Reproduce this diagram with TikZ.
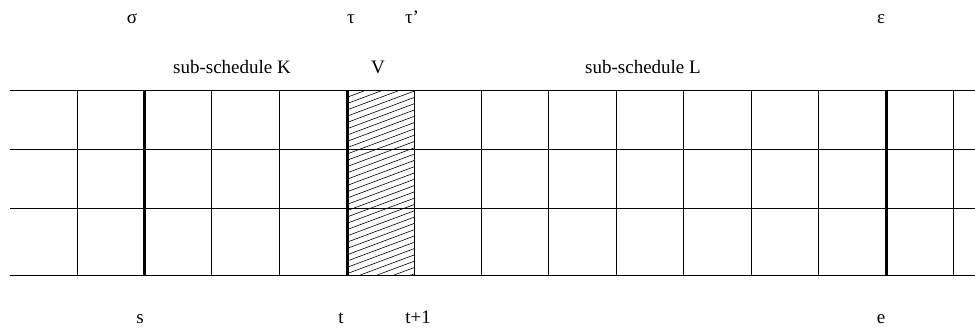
\documentclass[tikz,border=0pt]{standalone}
\usepackage{fontspec}
\setmainfont{Liberation Serif}
\begin{document}
\begin{tikzpicture}[x=1pt,y=-1pt,
  thin line/.style={line width=1pt,black},
  thick line/.style={line width=3pt,black},
  lbl/.style={anchor=base,inner sep=0pt,font=\fontsize{19}{22}\selectfont}]
\useasboundingbox (0,0) rectangle (975,328);
% hatching of column V
\begin{scope}
  \clip (347,91) rectangle (414,276);
  \foreach \i in {-10,...,45}
    \draw[line width=0.6pt] (347,91+6.3*\i) -- ++(67,-25);
\end{scope}
% horizontal lines
\foreach \y in {91,150,209,276}
  \draw[thin line] (10,\y) -- (975,\y);
% vertical lines
\foreach \x in {77,211,279,414,481,548,616,683,751,818,953}
  \draw[thin line] (\x,91) -- (\x,276);
\foreach \x in {144,347,886}
  \draw[thick line] (\x,91) -- (\x,276);
% top labels
\node[lbl] (sigma) at (132,24) {σ};
\node[lbl] (tau) at (351,24) {τ};
\node[lbl] (taup) at (412,24) {τ’};
\node[lbl] (eps) at (881,24) {ε};
\node[lbl] (K) at (232,74) {sub-schedule K};
\node[lbl] (V) at (378,74) {V};
\node[lbl] (L) at (643,74) {sub-schedule L};
% bottom labels
\node[lbl] (s) at (140,324) {s};
\node[lbl] (t) at (341,324) {t};
\node[lbl] (t1) at (418,324) {t+1};
\node[lbl] (e) at (881,324) {e};
\end{tikzpicture}
\end{document}
